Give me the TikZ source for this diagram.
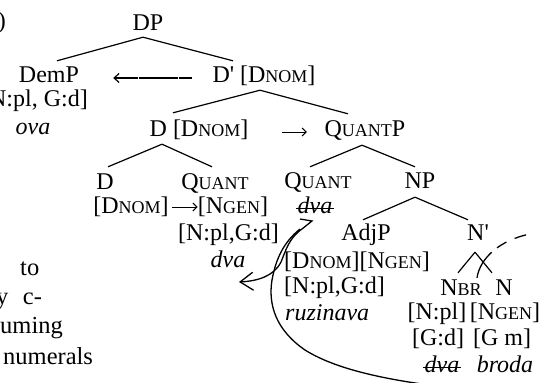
\documentclass[tikz,border=0pt]{standalone}
\usepackage{fontspec}
\setmainfont{Liberation Serif}
\usetikzlibrary{arrows.meta,calc}
\newcommand\smc[1]{{\fontsize{18}{18}\selectfont #1}}
\begin{document}
\begin{tikzpicture}[x=1pt,y=-1pt,
  lab/.style={inner sep=0pt, font=\fontsize{24}{26}\selectfont, text height=16pt, text depth=4pt, anchor=base},
  side/.style={inner sep=0pt, font=\fontsize{24.5}{30}\selectfont, anchor=base west},
  branch/.style={line width=1.2pt},
  mv/.style={line width=1.3pt},
  strike/.style={line width=1pt},
  smallarrow/.style={line width=1pt, -{Straight Barb[length=4pt,width=8pt]}}]
\useasboundingbox (0,0) rectangle (542,383);
\clip (0,0) rectangle (542,383);

% heads and features
\node[lab, anchor=base east] (num) at (6,28) {)};
\node[lab] (DP) at (148,30) {DP};
\node[lab] (DemP) at (49,82) {DemP};
\node[lab, anchor=base east] (DemPf) at (88,106) {[N:pl, G:d]};
\node[lab] (ova) at (33,134) {\textit{ova}};
\node[lab] (Dbar) at (264,82) {D\textquotesingle{} [D\smc{NOM}]};
\node[lab] (D2) at (199,136) {D [D\smc{NOM}]};
\node[lab] (QP) at (365,136) {Q\smc{UANT}P};
\node[lab] (Dd) at (105,189) {D};
\node[lab] (Qa) at (215,189) {Q\smc{UANT}};
\node[lab] (Ddf) at (131,213) {[D\smc{NOM}]};
\node[lab] (Qaf) at (233,213) {[N\smc{GEN}]};
\node[lab, anchor=base east] (Qaphi) at (279,240) {[N:pl,G:d]};
\node[lab] (Qadva) at (228,267) {\textit{dva}};
\node[lab] (Qb) at (318,188) {Q\smc{UANT}};
\node[lab] (NP) at (420,188) {NP};
\node[lab] (Qbdva) at (315,213) {\textit{dva}};
\node[lab] (AdjP) at (366,240) {AdjP};
\node[lab] (Nbar) at (478,240) {N\textquotesingle};
\node[lab, anchor=base west] (Adjf) at (284,268) {[D\smc{NOM}][N\smc{GEN}]};
\node[lab, anchor=base west] (Adjphi) at (284,293) {[N:pl,G:d]};
\node[lab, anchor=base west] (Adjw) at (285,320) {\textit{ruzinava}};
\node[lab] (NBR) at (461,295) {N\smc{BR}};
\node[lab] (Nh) at (504,295) {N};
\node[lab] (NBRf1) at (437,319) {[N:pl]};
\node[lab] (Nhf1) at (505,319) {[N\smc{GEN}]};
\node[lab] (NBRf2) at (438,345) {[G:d]};
\node[lab] (Nhf2) at (502,345) {[G m]};
\node[lab] (NBRdva) at (442,372) {\textit{dva}};
\node[lab] (broda) at (505,372) {\textit{broda}};

% side text
\node[side] (t1) at (20,275) {to};
\node[side] (t2) at (-4,304) {y\hspace{14.5pt}c-};
\node[side] (t3) at (0,333) {uming};
\node[side] (t4) at (3,364) {numerals};

% branches
\draw[branch] ($(DP.south)+(-5,3)$) -- ($(DemP.north)+(8,-5)$);
\draw[branch] ($(DP.south)+(-5,3)$) -- ($(Dbar.north)+(-31,-5)$);
\draw[branch] ($(Dbar.south)+(-4,4)$) -- ($(D2.north)+(-26,-7)$);
\draw[branch] ($(Dbar.south)+(-4,4)$) -- ($(QP.north)+(-17,-6)$);
\draw[branch] ($(D2.south)+(-37,4)$) -- ($(Dd.north)+(3,-6)$);
\draw[branch] ($(D2.south)+(-37,4)$) -- ($(Qa.north)+(-3,-6)$);
\draw[branch] ($(QP.south)+(-3,5)$) -- ($(Qb.north)+(-8,-5)$);
\draw[branch] ($(QP.south)+(-3,5)$) -- ($(NP.north)+(-5,-5)$);
\draw[branch] ($(NP.south)+(-5,5)$) -- ($(AdjP.north)+(-3,-4)$);
\draw[branch] ($(NP.south)+(-5,5)$) -- ($(Nbar.north)+(-10,-4)$);
\draw[branch] ($(Nbar.south)+(-3,8)$) -- ($(NBR.north)+(-3,-6)$);
\draw[branch] ($(Nbar.south)+(-3,8)$) -- ($(Nh.north)+(-12,-6)$);

% agreement arrows
\draw[branch, dash pattern=on 13pt off 0.4pt, -{Straight Barb[length=5pt,width=9pt]}]
  ($(Dbar.west)+(-20.5,2)$) -- ($(DemP.east)+(34,2)$);
\draw[smallarrow] ($(D2.east)+(33.7,2)$) -- ($(QP.west)+(-17.7,2)$);
\draw[smallarrow] ($(Ddf.east)+(3.4,0)$) -- ($(Qaf.west)+(0,0)$);

% strikethroughs
\draw[strike] ($(Qbdva.base west)+(-1,-5)$) -- ($(Qbdva.base east)+(1,-5)$);
\draw[strike] ($(NBRdva.base west)+(-1,-5)$) -- ($(NBRdva.base east)+(1,-5)$);

% movement
\coordinate (mvA) at (239,282);
\coordinate (mvB) at (480,391);
\draw[mv, -{Straight Barb[length=13pt,width=18pt]}]
  ($(Qbdva.base)+(-15,6)$) -- ($(Qbdva.base)+(-3,8)$) -- ($(Qbdva.base)+(-13,16)$)
  .. controls (289,238) and (286,250) .. (281,262)
  .. controls (274,276) and (258,281) .. (mvA);
\draw[mv] ($(Qbdva.base)+(-15,16)$) .. controls (284,242) and (276,258) .. (272,280)
  .. controls (268,305) and (276,330) .. (305,350)
  .. controls (340,372) and (400,383) .. (mvB);

% dashed line from NBR
\coordinate (dashEnd) at (530,234);
\draw[mv, dash pattern=on 30pt off 7pt on 11pt off 9pt on 12pt off 30pt]
  ($(NBR.north)+(16,-1)$) .. controls (480,258) and (500,240) .. (dashEnd);
\end{tikzpicture}
\end{document}
